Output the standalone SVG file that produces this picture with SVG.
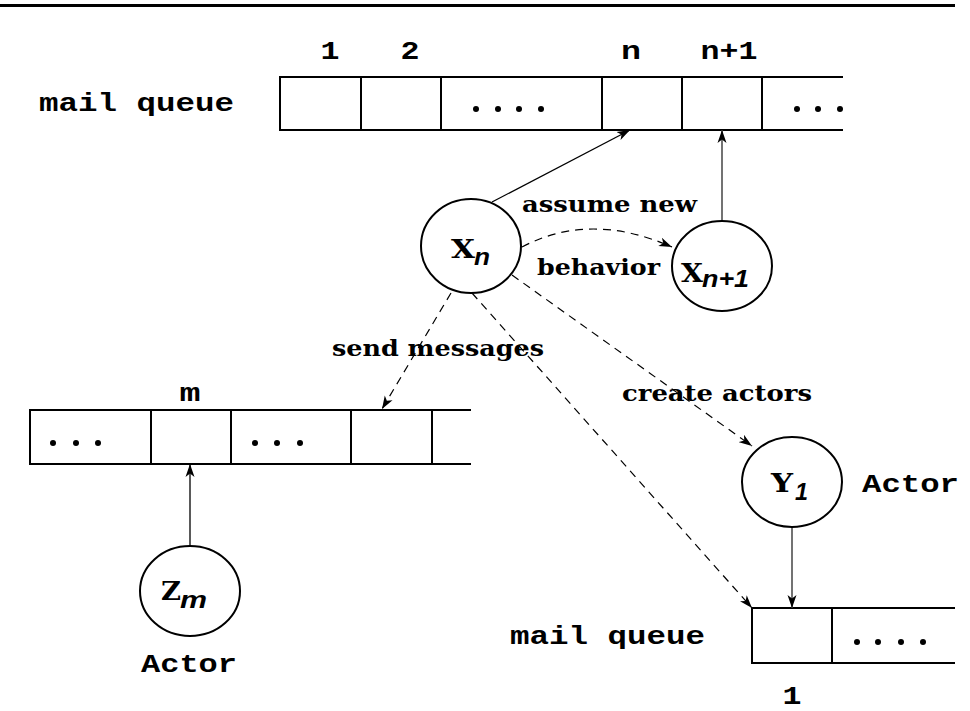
<svg xmlns="http://www.w3.org/2000/svg" width="970" height="711" viewBox="0 0 970 711">
<defs>
<marker id="ah" markerUnits="userSpaceOnUse" markerWidth="14" markerHeight="10" refX="13" refY="5" orient="auto">
<path d="M0,0.5 L13,5 L0,9.5 L3.5,5 Z" fill="#000"/>
</marker>
</defs>
<style>
.box{fill:none;stroke:#000;stroke-width:2}
.node{fill:#fff;stroke:#000;stroke-width:2}
.solid{fill:none;stroke:#000;stroke-width:1.3}
.gray{fill:none;stroke:#444;stroke-width:1.5}
.dash{fill:none;stroke:#000;stroke-width:1.2;stroke-dasharray:8 6}
.mono{font-family:"Liberation Mono","DejaVu Sans Mono",monospace;font-weight:bold;font-size:25px;fill:#000}
.lab{font-family:"DejaVu Serif","Liberation Serif",serif;font-weight:bold;font-size:23px;fill:#000}
.cap{font-family:"DejaVu Serif","Liberation Serif",serif;font-weight:bold;font-size:26px;fill:#000}
.sub{font-family:"Liberation Sans",Arial,sans-serif;font-weight:bold;font-style:italic;font-size:24px;fill:#000}
.dot{fill:#000}
</style>
<rect width="970" height="711" fill="#fff"/>
<line x1="0" y1="5.5" x2="955" y2="5.5" stroke="#000" stroke-width="3"/>

<g id="top-queue">
<text class="mono" x="39" y="111" textLength="195" lengthAdjust="spacingAndGlyphs">mail queue</text>
<text class="mono" x="330" y="59" text-anchor="middle" textLength="19" lengthAdjust="spacingAndGlyphs">1</text>
<text class="mono" x="410" y="59" text-anchor="middle" textLength="19" lengthAdjust="spacingAndGlyphs">2</text>
<text class="mono" x="631" y="59" text-anchor="middle" textLength="20" lengthAdjust="spacingAndGlyphs">n</text>
<text class="mono" x="729" y="59" text-anchor="middle" textLength="57" lengthAdjust="spacingAndGlyphs">n+1</text>
<path class="box" d="M843,77 H280 V130 H843 M361,77 V130 M441,77 V130 M602,77 V130 M682,77 V130 M762,77 V130"/>
<circle class="dot" cx="476" cy="109" r="3"/><circle class="dot" cx="498" cy="109" r="3"/><circle class="dot" cx="519" cy="109" r="3"/><circle class="dot" cx="541" cy="109" r="3"/>
<circle class="dot" cx="797" cy="109" r="3"/><circle class="dot" cx="818" cy="109" r="3"/><circle class="dot" cx="840" cy="109" r="3"/>
</g>

<g id="left-queue">
<text class="mono" x="190" y="401" text-anchor="middle" textLength="21" lengthAdjust="spacingAndGlyphs">m</text>
<path class="box" d="M471,410 H30 V464 H471 M151,410 V464 M231,410 V464 M351,410 V464 M432,410 V464"/>
<circle class="dot" cx="53" cy="443" r="3"/><circle class="dot" cx="76" cy="443" r="3"/><circle class="dot" cx="98" cy="443" r="3"/>
<circle class="dot" cx="255" cy="443" r="3"/><circle class="dot" cx="277" cy="443" r="3"/><circle class="dot" cx="300" cy="443" r="3"/>
</g>

<g id="bottom-queue">
<text class="mono" x="510" y="644" textLength="195" lengthAdjust="spacingAndGlyphs">mail queue</text>
<text class="mono" x="792" y="704" text-anchor="middle" textLength="19" lengthAdjust="spacingAndGlyphs">1</text>
<path class="box" d="M955,608 H752 V663 H955 M832,608 V663"/>
<circle class="dot" cx="857" cy="642" r="3"/><circle class="dot" cx="878" cy="642" r="3"/><circle class="dot" cx="901" cy="642" r="3"/><circle class="dot" cx="923" cy="642" r="3"/>
</g>

<g id="connectors">
<line class="solid" x1="492" y1="202" x2="630" y2="130" marker-end="url(#ah)"/>
<line class="gray" x1="722" y1="221" x2="722" y2="130" marker-end="url(#ah)"/>
<path class="dash" d="M522,247 Q590,211 672,247" marker-end="url(#ah)"/>
<line class="dash" x1="451" y1="293" x2="382" y2="409" marker-end="url(#ah)"/>
<line class="dash" x1="472" y1="293" x2="752" y2="608" marker-end="url(#ah)"/>
<line class="dash" x1="512" y1="275" x2="752" y2="446" marker-end="url(#ah)"/>
<line class="gray" x1="792" y1="527" x2="792" y2="608" marker-end="url(#ah)"/>
<line class="solid" x1="190" y1="546" x2="190" y2="464" marker-end="url(#ah)"/>
<text class="lab" x="522" y="212" textLength="175" lengthAdjust="spacingAndGlyphs">assume new</text>
<text class="lab" x="537" y="275" textLength="123" lengthAdjust="spacingAndGlyphs">behavior</text>
<text class="lab" x="332" y="356" textLength="212" lengthAdjust="spacingAndGlyphs">send messages</text>
<text class="lab" x="622" y="401" textLength="190" lengthAdjust="spacingAndGlyphs">create actors</text>
</g>

<g id="node-xn">
<ellipse class="node" cx="471" cy="246" rx="50" ry="47"/>
<text class="cap" x="451" y="258" textLength="24" lengthAdjust="spacingAndGlyphs">X</text>
<text class="sub" x="474" y="265" textLength="16" lengthAdjust="spacingAndGlyphs">n</text>
</g>

<g id="node-xn1">
<ellipse class="node" cx="722" cy="266" rx="50" ry="45"/>
<text class="cap" x="681" y="282" textLength="22" lengthAdjust="spacingAndGlyphs">X</text>
<text class="sub" x="702" y="287" textLength="47" lengthAdjust="spacingAndGlyphs">n+1</text>
</g>

<g id="node-y1">
<ellipse class="node" cx="792" cy="482" rx="50" ry="45"/>
<text class="cap" x="771" y="492" textLength="22" lengthAdjust="spacingAndGlyphs">Y</text>
<text class="sub" x="795" y="500" textLength="13" lengthAdjust="spacingAndGlyphs">1</text>
<text class="mono" x="862" y="492" textLength="97" lengthAdjust="spacingAndGlyphs">Actor</text>
</g>

<g id="node-zm">
<ellipse class="node" cx="190" cy="591" rx="50" ry="45"/>
<text class="cap" x="161" y="600" textLength="20" lengthAdjust="spacingAndGlyphs">Z</text>
<text class="sub" x="180" y="608" textLength="27" lengthAdjust="spacingAndGlyphs">m</text>
<text class="mono" x="141" y="672" textLength="96" lengthAdjust="spacingAndGlyphs">Actor</text>
</g>
</svg>
